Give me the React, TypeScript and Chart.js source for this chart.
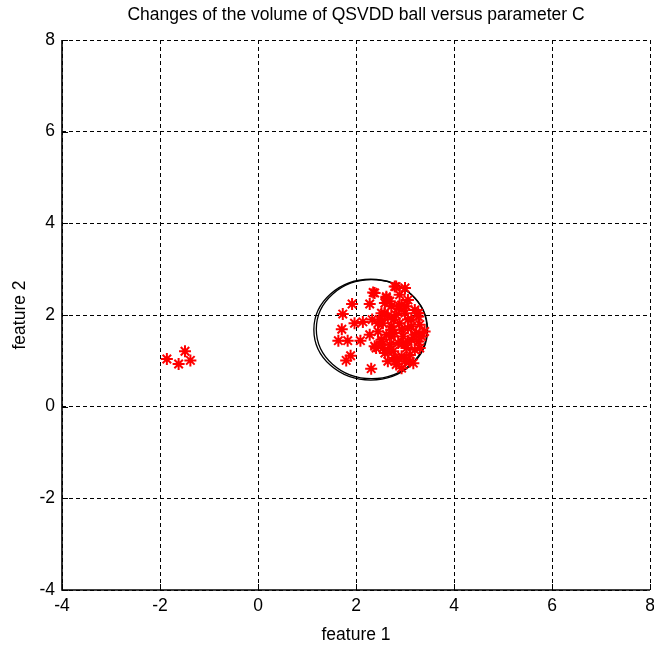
import React, { useEffect, useRef } from "react";
import { Chart, registerables } from "chart.js";

Chart.register(...registerables);

const TITLE = "Changes of the volume of QSVDD ball versus parameter C";
const X_LABEL = "feature 1";
const Y_LABEL = "feature 2";
const AXIS_MIN = -4;
const AXIS_MAX = 8;
const TICK_STEP = 2;

// outlying group on the left
const outlierX = [-1.86, -1.62, -1.49, -1.38];
const outlierY = [1.04, 0.93, 1.21, 1.01];

// main group inside the ball
const clusterX = [
  2.35, 1.92, 2.28, 1.73, 1.97, 2.14, 1.71, 2.33, 1.64, 1.83, 2.09, 2.28, 1.89, 1.80, 2.31, 2.38,
  2.62, 2.82, 3.0, 2.89, 3.06, 2.59, 2.72, 2.93, 3.2, 2.52, 2.65, 2.82, 3.0, 3.13, 3.3, 3.4,
  2.55, 2.72, 2.89, 3.06, 3.23, 2.45, 2.62, 2.79, 2.96, 3.13, 3.27, 2.52, 2.69, 2.86, 3.03, 3.2,
  2.41, 2.59, 2.76, 2.93, 3.1, 2.65, 2.82, 3.0, 2.93, 3.17, 2.69, 2.86, 3.03, 2.48, 2.76, 3.27,
  3.34, 2.55, 2.79, 3.06, 2.93, 2.72, 3.13, 3.3,
  2.38, 2.62, 2.58, 2.45, 2.72, 2.89, 3.06, 3.2, 2.96, 2.65, 2.82, 3.1, 2.52, 3.27, 2.79,
];
const clusterY = [
  2.49, 2.24, 2.24, 2.02, 1.82, 1.85, 1.69, 1.9, 1.44, 1.44, 1.44, 1.57, 1.11, 1.01, 0.83, 1.32,
  2.4, 2.62, 2.59, 2.44, 2.33, 2.26, 2.19, 2.22, 2.11, 2.04, 1.97, 2.0, 2.04, 1.9, 1.79, 1.64,
  1.82, 1.75, 1.82, 1.71, 1.61, 1.64, 1.57, 1.61, 1.53, 1.46, 1.42, 1.42, 1.35, 1.39, 1.28, 1.24,
  1.28, 1.17, 1.21, 1.1, 1.13, 0.99, 0.92, 0.99, 0.84, 0.95, 2.3, 2.15, 2.19, 1.9, 1.9, 1.97,
  1.53, 1.28, 1.06, 1.42, 1.68, 1.53, 1.75, 1.28,
  2.48, 2.37, 2.04, 1.82, 1.68, 2.19, 1.9, 1.57, 1.39, 1.2, 1.02, 0.99, 1.46, 2.04, 2.62,
];

// ball boundary contours (two nearly coincident contours)
const ballCenterX = [2.3, 2.32];
const ballCenterY = [1.68, 1.69];
const ballRadiusX = [1.16, 1.13];
const ballRadiusY = [1.1, 1.08];

const FONT = "'Liberation Sans', Arial, sans-serif";
const FONT_SIZE = 17.5;

export default function App() {
  const ref = useRef<HTMLCanvasElement | null>(null);

  useEffect(() => {
    if (!ref.current) return;
    const points = [
      ...outlierX.map((x, i) => ({ x, y: outlierY[i] })),
      ...clusterX.map((x, i) => ({ x, y: clusterY[i] })),
    ];

    const ballPlugin = {
      id: "ball",
      beforeDatasetsDraw(chart: any) {
        const { ctx, scales, chartArea } = chart;
        const xs = scales.x;
        const ys = scales.y;
        ctx.save();
        // inward tick marks
        ctx.strokeStyle = "#000";
        ctx.lineWidth = 1;
        ctx.setLineDash([]);
        xs.ticks.forEach((t: any) => {
          const px = Math.round(xs.getPixelForValue(t.value)) + 0.5;
          ctx.beginPath();
          ctx.moveTo(px, chartArea.bottom);
          ctx.lineTo(px, chartArea.bottom - 6);
          ctx.stroke();
        });
        ys.ticks.forEach((t: any) => {
          const py = Math.round(ys.getPixelForValue(t.value)) + 0.5;
          ctx.beginPath();
          ctx.moveTo(chartArea.left, py);
          ctx.lineTo(chartArea.left + 6, py);
          ctx.stroke();
        });
        // axis lines (left & bottom)
        ctx.lineWidth = 1.6;
        ctx.beginPath();
        ctx.moveTo(chartArea.left, chartArea.top);
        ctx.lineTo(chartArea.left, chartArea.bottom);
        ctx.lineTo(chartArea.right, chartArea.bottom);
        ctx.stroke();
        // ball contours
        ctx.lineWidth = 1.3;
        ballCenterX.forEach((cx, i) => {
          const cxp = xs.getPixelForValue(cx);
          const cyp = ys.getPixelForValue(ballCenterY[i]);
          const rxp = Math.abs(xs.getPixelForValue(cx + ballRadiusX[i]) - cxp);
          const ryp = Math.abs(ys.getPixelForValue(ballCenterY[i] + ballRadiusY[i]) - cyp);
          ctx.beginPath();
          ctx.ellipse(cxp, cyp, rxp, ryp, 0, 0, Math.PI * 2);
          ctx.stroke();
        });
        ctx.restore();
      },
    };

    const tickFont = { family: FONT, size: FONT_SIZE };
    const gridOpts = { color: "#000", lineWidth: 1, drawTicks: false };
    const borderOpts = { display: false, dash: [4, 3] };

    const chart = new Chart(ref.current, {
      type: "scatter",
      data: {
        datasets: [
          {
            data: points,
            pointStyle: "star",
            pointRadius: 6,
            pointBorderColor: "#ff0000",
            pointBackgroundColor: "#ff0000",
            pointBorderWidth: 2,
            showLine: false,
          },
        ],
      },
      options: {
        animation: false,
        responsive: false,
        devicePixelRatio: 1,
        layout: { autoPadding: false, padding: { left: 0, right: 4, top: 0, bottom: 0 } },
        plugins: {
          legend: { display: false },
          tooltip: { enabled: false },
          title: {
            display: true,
            fullSize: false,
            text: TITLE,
            color: "#000",
            font: { family: FONT, size: FONT_SIZE, weight: "normal", lineHeight: 1.2 },
            padding: { top: 4.5, bottom: 14.5 },
          },
        },
        scales: {
          x: {
            type: "linear",
            min: AXIS_MIN,
            max: AXIS_MAX,
            afterFit: (s: any) => {
              s.height = 56;
              s.paddingLeft = 0;
              s.paddingRight = 0;
            },
            ticks: { stepSize: TICK_STEP, color: "#000", font: tickFont, padding: 6, maxRotation: 0 },
            grid: gridOpts,
            border: borderOpts,
            title: {
              display: true,
              text: X_LABEL,
              color: "#000",
              font: { family: FONT, size: FONT_SIZE, lineHeight: 1.2 },
              padding: { top: 0, bottom: 0.5 },
            },
          },
          y: {
            type: "linear",
            min: AXIS_MIN,
            max: AXIS_MAX,
            afterFit: (s: any) => {
              s.width = 62;
              s.paddingTop = 0;
              s.paddingBottom = 0;
            },
            ticks: { stepSize: TICK_STEP, color: "#000", font: tickFont, padding: 7 },
            grid: gridOpts,
            border: borderOpts,
            title: {
              display: true,
              text: Y_LABEL,
              color: "#000",
              font: { family: FONT, size: FONT_SIZE, lineHeight: 1.2 },
              padding: { top: 9.5, bottom: 0 },
            },
          },
        },
      },
      plugins: [ballPlugin],
    });
    return () => chart.destroy();
  }, []);

  return (
    <div style={{ position: "fixed", left: 0, top: 0, width: 654, height: 646, background: "#fff" }}>
      <canvas ref={ref} width={654} height={646} style={{ width: 654, height: 646, display: "block" }} />
    </div>
  );
}
